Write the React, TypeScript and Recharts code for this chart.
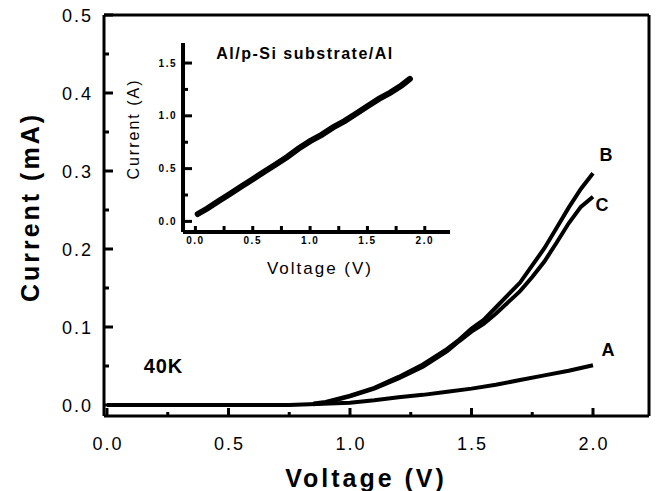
import { Line, LineChart, ReferenceDot, ReferenceLine, XAxis, YAxis } from "recharts";

document.body.style.margin = "0";

const FONT = "'Liberation Sans', Arial, sans-serif";

// main plot: I-V curves at 40K
const voltageA = [0, 0.25, 0.5, 0.75, 1.0, 1.1, 1.2, 1.3, 1.4, 1.5, 1.6, 1.7, 1.8, 1.9, 2.0];
const currentA = [0, 0, 0, 0, 0.003, 0.006, 0.01, 0.013, 0.017, 0.021, 0.026, 0.032, 0.038, 0.044, 0.051];

const voltageBC = [0.85, 0.9, 1.0, 1.1, 1.2, 1.3, 1.4, 1.45, 1.5, 1.55, 1.6, 1.7, 1.75, 1.8, 1.85, 1.9, 1.95, 2.0];
const currentB = [0.002, 0.004, 0.012, 0.022, 0.036, 0.052, 0.072, 0.084, 0.098, 0.109, 0.125, 0.157, 0.179, 0.201, 0.227, 0.253, 0.277, 0.297];
const currentC = [0.001, 0.003, 0.011, 0.021, 0.034, 0.049, 0.069, 0.082, 0.094, 0.104, 0.117, 0.146, 0.164, 0.184, 0.208, 0.233, 0.254, 0.267];

const mainXMajor = [0, 0.5, 1, 1.5, 2];
const mainXMinor = [0.25, 0.75, 1.25, 1.75];
const mainYMajor = [0, 0.1, 0.2, 0.3, 0.4, 0.5];
const mainYMinor = [0.05, 0.15, 0.25, 0.35, 0.45];

// inset: Al/p-Si substrate/Al
const insetVoltage = [0.02, 0.1, 0.2, 0.3, 0.4, 0.5, 0.6, 0.7, 0.8, 0.9, 1.0, 1.1, 1.2, 1.3, 1.4, 1.5, 1.6, 1.7, 1.8, 1.87];
const insetCurrent = [0.07, 0.12, 0.19, 0.26, 0.33, 0.4, 0.47, 0.54, 0.61, 0.69, 0.76, 0.82, 0.89, 0.95, 1.02, 1.09, 1.16, 1.22, 1.29, 1.35];

const insetXMajor = [0, 0.5, 1, 1.5, 2];
const insetXMinor = [0.25, 0.75, 1.25, 1.75];
const insetYMajor = [0, 0.5, 1, 1.5];
const insetYMinor = [0.25, 0.75, 1.25];

const toPoints = (vs: number[], is: number[]) => vs.map((v, k) => ({ v, i: is[k] }));
const sorted = (a: number[], b: number[]) => [...a, ...b].sort((p, q) => p - q);

const dataA = toPoints(voltageA, currentA);
const dataB = toPoints(voltageBC, currentB);
const dataC = toPoints(voltageBC, currentC);
const dataInset = toPoints(insetVoltage, insetCurrent);

const mainXTicks = sorted(mainXMajor, mainXMinor);
const mainYTicks = sorted(mainYMajor, mainYMinor);
const insetXTicks = sorted(insetXMajor, insetXMinor);
const insetYTicks = sorted(insetYMajor, insetYMinor);

const mainXDomain = [-0.0123, 2.2305];
const mainYDomain = [-0.0141, 0.5];
const unitDomain = [0, 1];

// inset frame and the full-plot domains that place it in the corner
const inX0 = -0.108;
const inX1 = 2.22;
const inY0 = -0.1;
const inY1 = 1.69;
const inPxX = 114.7;
const inPxY = 105.6;
const insetXDomain = [-0.797, 3.955];
const insetYDomain = [-1.843, 1.955];

const mainMargin = { top: 14, right: 6, bottom: 74, left: 103 };

const bottomTick = (majors: number[]) => (props: any) => {
  const { x, y, payload } = props;
  const major = majors.includes(payload.value);
  return (
    <g>
      <line x1={x} x2={x} y1={y} y2={y - (major ? 8 : 4)} stroke="#000" strokeWidth={3} />
      {major && (
        <text x={x + 1} y={y + 34} textAnchor="middle" fontFamily={FONT} fontSize={18} letterSpacing={2} fill="#000">
          {payload.value.toFixed(1)}
        </text>
      )}
    </g>
  );
};

const leftTick = (majors: number[]) => (props: any) => {
  const { x, y, payload } = props;
  const major = majors.includes(payload.value);
  return (
    <g>
      <line x1={x} x2={x + (major ? 9 : 5)} y1={y} y2={y} stroke="#000" strokeWidth={3} />
      {major && (
        <text x={x - 11} y={y + 6.5} textAnchor="end" fontFamily={FONT} fontSize={18} letterSpacing={2} fill="#000">
          {payload.value.toFixed(1)}
        </text>
      )}
    </g>
  );
};

const mainXTick = bottomTick(mainXMajor);
const mainYTick = leftTick(mainYMajor);

const insetLabel = (value: string, position: "bottom" | "left", offset: number) => ({
  value,
  position,
  offset,
  fontSize: 10,
  fontWeight: "bold",
  fontFamily: FONT,
  letterSpacing: 1.5,
  fill: "#000",
});

const textLabel = (value: string, fontSize: number, bold: boolean, spacing: number, angle = 0) => ({
  value,
  position: "center",
  fontSize,
  fontWeight: bold ? "bold" : "normal",
  fontFamily: FONT,
  letterSpacing: spacing,
  angle,
  fill: "#000",
});

export default function App() {
  return (
    <LineChart width={656} height={491} margin={mainMargin}>
      <XAxis
        type="number"
        dataKey="v"
        domain={mainXDomain}
        ticks={mainXTicks}
        interval={0}
        height={1}
        tickSize={0}
        tickMargin={0}
        tickLine={false}
        stroke="#000"
        strokeWidth={3}
        tick={mainXTick}
      />
      <XAxis xAxisId="top" orientation="top" type="number" domain={unitDomain} height={1} tick={false} tickLine={false} stroke="#000" strokeWidth={3} />
      <XAxis xAxisId="ix" type="number" dataKey="v" domain={insetXDomain} hide />
      <YAxis
        type="number"
        domain={mainYDomain}
        ticks={mainYTicks}
        interval={0}
        width={1}
        tickSize={0}
        tickMargin={0}
        tickLine={false}
        stroke="#000"
        strokeWidth={3}
        tick={mainYTick}
      />
      <YAxis yAxisId="right" orientation="right" type="number" domain={unitDomain} width={1} tick={false} tickLine={false} stroke="#000" strokeWidth={3} />
      <YAxis yAxisId="iy" type="number" domain={insetYDomain} hide />

      <Line data={dataA} dataKey="i" type="linear" dot={false} stroke="#000" strokeWidth={4} isAnimationActive={false} />
      <Line data={dataB} dataKey="i" type="linear" dot={false} stroke="#000" strokeWidth={4} isAnimationActive={false} />
      <Line data={dataC} dataKey="i" type="linear" dot={false} stroke="#000" strokeWidth={4} isAnimationActive={false} />

      {/* inset axes */}
      <ReferenceLine xAxisId="ix" yAxisId="iy" ifOverflow="visible" segment={[{ x: inX0, y: inY0 }, { x: inX1, y: inY0 }]} stroke="#000" strokeWidth={4} />
      <ReferenceLine xAxisId="ix" yAxisId="iy" ifOverflow="visible" segment={[{ x: inX0, y: inY0 }, { x: inX0, y: inY1 }]} stroke="#000" strokeWidth={4} />
      {insetXTicks.map((t) => (
        <ReferenceLine
          key={`ix${t}`}
          xAxisId="ix"
          yAxisId="iy"
          ifOverflow="visible"
          segment={[{ x: t, y: inY0 }, { x: t, y: inY0 + 6 / inPxY }]}
          stroke="#000"
          strokeWidth={3}
          label={insetXMajor.includes(t) ? insetLabel(t.toFixed(1), "bottom", 5) : undefined}
        />
      ))}
      {insetYTicks.map((t) => (
        <ReferenceLine
          key={`iy${t}`}
          xAxisId="ix"
          yAxisId="iy"
          ifOverflow="visible"
          segment={[{ x: inX0, y: t }, { x: inX0 + (insetYMajor.includes(t) ? 9 : 5) / inPxX, y: t }]}
          stroke="#000"
          strokeWidth={3}
          label={insetYMajor.includes(t) ? insetLabel(t.toFixed(1), "left", 6) : undefined}
        />
      ))}
      <Line xAxisId="ix" yAxisId="iy" data={dataInset} dataKey="i" type="linear" dot={false} stroke="#000" strokeWidth={6} strokeLinecap="round" isAnimationActive={false} />

      {/* titles and curve names, anchored in data space */}
      <ReferenceDot x={-0.317} y={0.2538} r={0} fill="none" stroke="none" ifOverflow="visible" label={textLabel("Current (mA)", 25, true, 3, -90)} />
      <ReferenceDot x={1.066} y={-0.0936} r={0} fill="none" stroke="none" ifOverflow="visible" label={textLabel("Voltage (V)", 25, true, 3)} />
      <ReferenceDot x={0.2325} y={0.05} r={0} fill="none" stroke="none" ifOverflow="visible" label={textLabel("40K", 20, true, 1)} />
      <ReferenceDot x={2.0535} y={0.3205} r={0} fill="none" stroke="none" ifOverflow="visible" label={textLabel("B", 18, true, 0)} />
      <ReferenceDot x={2.037} y={0.2564} r={0} fill="none" stroke="none" ifOverflow="visible" label={textLabel("C", 18, true, 0)} />
      <ReferenceDot x={2.0617} y={0.0705} r={0} fill="none" stroke="none" ifOverflow="visible" label={textLabel("A", 18, true, 0)} />
      <ReferenceDot x={0.8148} y={0.4513} r={0} fill="none" stroke="none" ifOverflow="visible" label={textLabel("Al/p-Si substrate/Al", 16, true, 1.5)} />
      <ReferenceDot x={0.107} y={0.3538} r={0} fill="none" stroke="none" ifOverflow="visible" label={textLabel("Current (A)", 16, false, 2, -90)} />
      <ReferenceDot x={0.8765} y={0.1756} r={0} fill="none" stroke="none" ifOverflow="visible" label={textLabel("Voltage (V)", 17, false, 2)} />
    </LineChart>
  );
}
